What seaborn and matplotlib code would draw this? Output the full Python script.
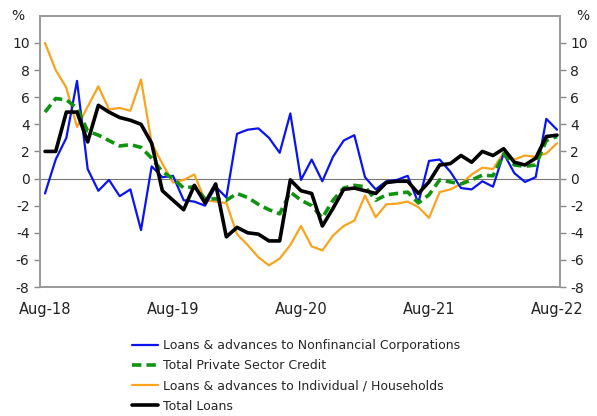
import pandas as pd
import numpy as np
import seaborn as sns
import matplotlib.pyplot as plt

# monthly growth rates (%), Aug-18 .. Aug-22
months = pd.date_range("2018-08-01", "2022-08-01", freq="MS")

nonfin_corp = [-1.1, 1.4, 3.0, 7.2, 0.7, -0.9, -0.1, -1.3, -0.8, -3.8, 0.9, 0.1, 0.2,
               -1.6, -1.7, -2.0, -0.6, -1.4, 3.3, 3.6, 3.7, 3.0, 1.9, 4.8, -0.1,
               1.4, -0.2, 1.6, 2.8, 3.2, 0.1, -0.8, -0.2, -0.1, 0.2, -1.8, 1.3,
               1.4, 0.5, -0.7, -0.8, -0.2, -0.6, 1.85, 0.4, -0.25, 0.1, 4.4, 3.6]
private_credit = [4.9, 5.9, 5.8, 5.2, 3.5, 3.2, 2.8, 2.4, 2.5, 2.3, 1.5, 0.5, 0.0,
                  -0.7, -0.6, -1.5, -1.5, -1.6, -1.1, -1.4, -1.9, -2.3, -2.6, -1.0, -1.6,
                  -2.0, -2.9, -1.6, -0.7, -0.5, -0.6, -1.6, -1.2, -1.1, -1.0, -1.8, -1.2,
                  -0.1, -0.25, -0.4, -0.1, 0.25, 0.2, 1.8, 1.0, 0.9, 1.0, 2.8, 3.1]
households = [10.0, 8.0, 6.7, 3.8, 5.3, 6.8, 5.1, 5.2, 5.0, 7.3, 2.6, 1.1, -0.3,
              -0.1, 0.3, -1.6, -1.7, -1.8, -4.1, -4.9, -5.8, -6.4, -5.9, -4.9, -3.5,
              -5.0, -5.3, -4.2, -3.5, -3.1, -1.25, -2.85, -1.9, -1.85, -1.7, -2.1, -2.9,
              -1.0, -0.8, -0.4, 0.3, 0.8, 0.7, 1.9, 1.4, 1.7, 1.6, 1.85, 2.6]
total_loans = [2.0, 2.0, 4.9, 4.9, 2.7, 5.4, 4.9, 4.5, 4.3, 4.0, 2.6, -0.9, -1.6,
               -2.3, -0.5, -1.8, -0.4, -4.3, -3.6, -4.0, -4.1, -4.6, -4.6, -0.1, -0.9,
               -1.1, -3.5, -2.2, -0.8, -0.7, -0.9, -1.1, -0.3, -0.2, -0.2, -1.1, -0.25,
               1.0, 1.1, 1.7, 1.2, 2.0, 1.7, 2.2, 1.2, 1.0, 1.5, 3.1, 3.2]

labels = ["Loans & advances to Nonfinancial Corporations",
          "Total Private Sector Credit",
          "Loans & advances to Individual / Households",
          "Total Loans"]

x = np.arange(len(months))
tick_pos = x[::12]
tick_labels = [d.strftime("%b-%y") for d in months[::12]]

sns.set_style("white")
plt.rcParams['font.family'] = ['DejaVu Sans']
plt.rcParams['axes.unicode_minus'] = False

fig = plt.figure(figsize=(5.97, 4.16), dpi=100)
ax = fig.add_axes([0.067, 0.31, 0.871, 0.652])

styles = [
    (nonfin_corp, "#0a14f0", 1.6, "-", 3),
    (private_credit, "#109410", 2.6, (0, (2.6, 1.4)), 4),
    (households, "#f9a31e", 1.6, "-", 2),
    (total_loans, "black", 2.6, "-", 5),
]
for (vals, col, lw, ls, z), lab in zip(styles, labels):
    sns.lineplot(x=x, y=vals, ax=ax, color=col, linewidth=lw, linestyle=ls,
                 label=lab, zorder=z)

ax.axhline(0, color="#777777", lw=0.8, zorder=1)
ax.set_xlim(-0.47, 48.28)
ax.set_ylim(-8, 12)
ax.set_yticks(range(-8, 11, 2))
ax.set_xticks(tick_pos)
ax.set_xticklabels(tick_labels)
ax.tick_params(axis="x", length=0, pad=11, labelsize=10.5, colors="#222222")
ax.tick_params(axis="y", direction="out", length=4, width=1, color="#888888",
               labelsize=10, colors="#222222", left=True)

ax2 = ax.twinx()
ax2.set_ylim(-8, 12)
ax2.set_yticks(range(-8, 11, 2))
ax2.tick_params(axis="y", direction="out", length=4, width=1, color="#888888",
                labelsize=10, colors="#222222", right=True)

for a in (ax, ax2):
    for s in a.spines.values():
        s.set_color("#999999")
        s.set_linewidth(1.2)

ax.annotate("%", xy=(-0.042, 1.0), xycoords="axes fraction", ha="center",
            va="center", fontsize=10, color="#222222")
ax.annotate("%", xy=(1.044, 1.0), xycoords="axes fraction", ha="center",
            va="center", fontsize=10, color="#222222")

handles, labs = ax.get_legend_handles_labels()
ax.get_legend().remove()
fig.legend(handles, labs, loc="upper left", bbox_to_anchor=(0.212, 0.197),
           frameon=False, fontsize=9, handlelength=2.1, handletextpad=0.4,
           labelspacing=0.58, borderaxespad=0)

fig.savefig("out.png", dpi=100)
